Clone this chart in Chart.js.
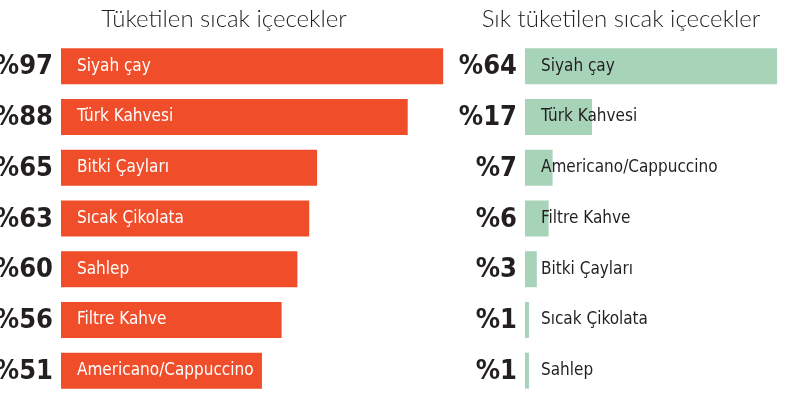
<!DOCTYPE html>
<html><head><meta charset="utf-8">
<script src="https://cdn.jsdelivr.net/npm/chart.js@4"></script>
<style>html,body{margin:0;padding:0;background:#fff}#w{position:relative;width:789px;height:401px}canvas{position:absolute;left:0;top:0}</style>
</head><body><div id="w"><canvas id="c1" width="789" height="401"></canvas><canvas id="c2" width="789" height="401"></canvas></div>
<script>
const leftTitle = "Tüketilen sıcak içecekler";
const leftCats = ["Siyah çay","Türk Kahvesi","Bitki Çayları","Sıcak Çikolata","Sahlep","Filtre Kahve","Americano/Cappuccino"];
const leftVals = [97,88,65,63,60,56,51];
const rightTitle = "Sık tüketilen sıcak içecekler";
const rightCats = ["Siyah çay","Türk Kahvesi","Americano/Cappuccino","Filtre Kahve","Bitki Çayları","Sıcak Çikolata","Sahlep"];
const rightVals = [64,17,7,6,3,1,1];

function make(id, cats, vals, color, textColor, max, padL, padR, title, titleX){
  const lbl = {
    id:'lbl'+id,
    afterDatasetsDraw(ch){
      const ctx=ch.ctx, meta=ch.getDatasetMeta(0);
      ctx.save();
      meta.data.forEach((b,i)=>{
        ctx.textBaseline='middle';
        ctx.fillStyle='#231f20';
        ctx.textAlign='right';
        ctx.font='bold 27px "DejaVu Sans Condensed", "DejaVu Sans"';
        ctx.fillText('%'+vals[i], padL-8, b.y+1);
        ctx.textAlign='left';
        ctx.fillStyle=textColor;
        ctx.font='17px "DejaVu Sans Condensed", "DejaVu Sans"';
        ctx.fillText(cats[i], padL+16, b.y);
      });
      ctx.textAlign='center';
      ctx.fillStyle='#231f20';
      ctx.font='300 24px Lato, "Open Sans"';
      ctx.fillText(title, titleX, 19);
      ctx.restore();
    }
  };
  new Chart(document.getElementById(id),{
    type:'bar',
    data:{labels:cats,datasets:[{data:vals,backgroundColor:color,barPercentage:0.71,categoryPercentage:1}]},
    options:{indexAxis:'y',responsive:false,animation:false,
      layout:{padding:{left:padL,right:padR,top:41,bottom:5}},
      plugins:{legend:{display:false},tooltip:{enabled:false}},
      scales:{x:{display:false,min:0,max:max},y:{display:false}}},
    plugins:[lbl]
  });
}
make('c1',leftCats,leftVals,'#f04e2b','#ffffff',100,61,334,leftTitle,224);
make('c2',rightCats,rightVals,'#a7d3b9','#231f20',66,525,4,rightTitle,621);
</script></body></html>
